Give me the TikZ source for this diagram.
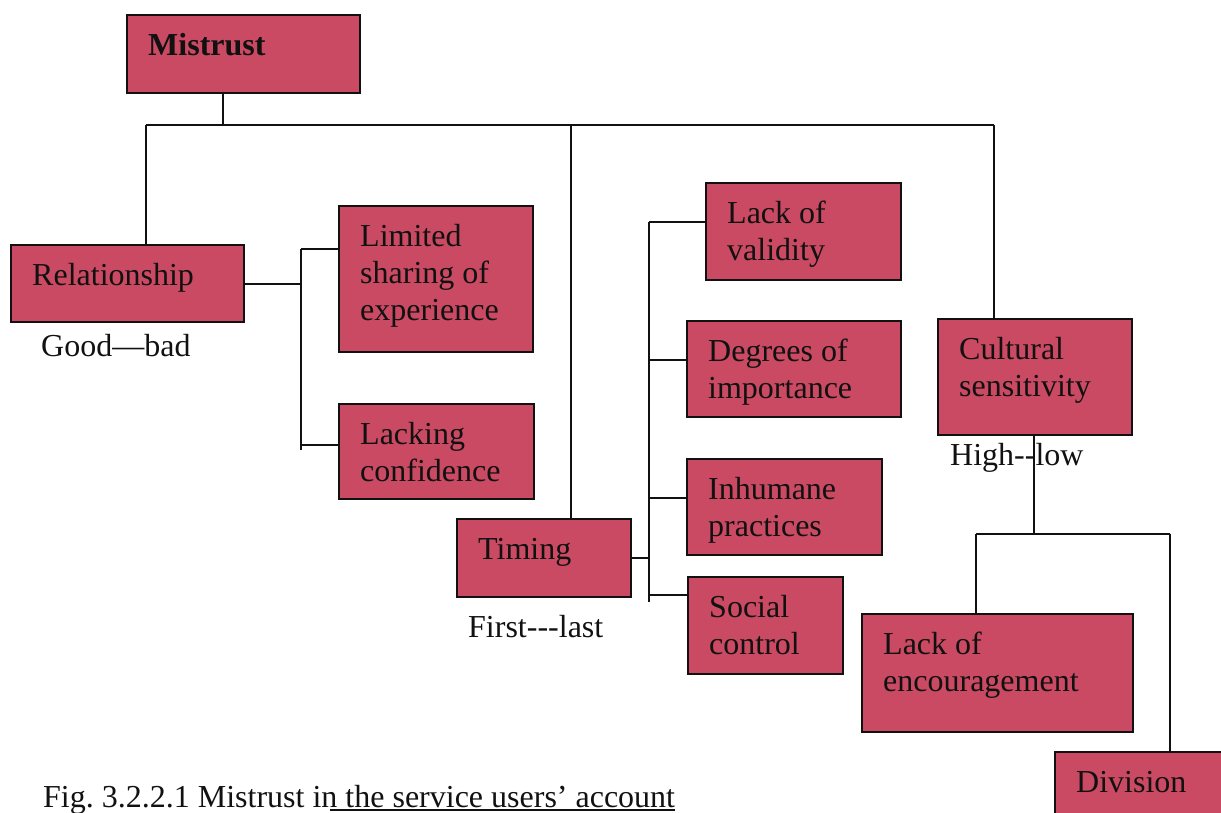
\documentclass[tikz,border=0pt]{standalone}
\usepackage{fontspec}
\setmainfont{Liberation Serif}
\definecolor{boxfill}{RGB}{201,74,98}
\definecolor{ink}{RGB}{17,17,17}

\tikzset{
  box/.style={draw=ink, fill=boxfill, line width=2.4pt, inner sep=0pt, anchor=north west},
  boxtext/.style={inner sep=0pt, anchor=base west, text=ink, font={\fontsize{32}{37}\selectfont}},
  note/.style={inner sep=0pt, anchor=base west, text=ink, font={\fontsize{32}{37}\selectfont}},
  link/.style={draw=ink, line width=2pt},
}

% \mkbox{name}{left}{top}{width}{height}{lines}
\newcommand\mkbox[6]{%
  \node[box, minimum width=#4pt, minimum height=#5pt] (#1) at (#2,#3) {};
  \node[boxtext] (#1-t) at ([shift={(22,41)}]#1.north west)
    {\begin{tabular}[t]{@{}l@{}}#6\end{tabular}};
}

\begin{document}
\begin{tikzpicture}[x=1pt, y=-1pt]
\useasboundingbox (0,0) rectangle (1221,812);
\begin{scope}
\clip (0,0) rectangle (1221,812);

% boxes
\mkbox{mistrust}{126}{14}{233}{78}{\textbf{Mistrust}}
\mkbox{rel}{10}{244}{233}{77}{Relationship}
\mkbox{limited}{338}{205}{194}{146}{Limited\\sharing of\\experience}
\mkbox{lacking}{338}{403}{195}{95}{Lacking\\confidence}
\mkbox{timing}{456}{518}{174}{78}{Timing}
\mkbox{validity}{705}{182}{195}{97}{Lack of\\validity}
\mkbox{degrees}{686}{320}{214}{96}{Degrees of\\importance}
\mkbox{inhumane}{686}{458}{195}{96}{Inhumane\\practices}
\mkbox{social}{687}{576}{155}{97}{Social\\control}
\mkbox{cult}{937}{318}{194}{116}{Cultural\\sensitivity}
\mkbox{lackenc}{861}{613}{271}{118}{Lack of\\encouragement}
\mkbox{division}{1054}{751}{200}{100}{Division}

% scale labels
\node[note] (goodbad) at (41,356) {Good---bad};
\node[note] (firstlast) at (468,637) {First-{}-{}-last};
\node[note] (highlow) at (950,465) {High-{}-low};

% top-level branching
\coordinate (hub) at (223,125);
\coordinate (barL) at (146,125);
\coordinate (barT) at (571,125);
\coordinate (barR) at (994,125);
\draw[link] (hub |- mistrust.south) -- (hub);
\draw[link] (barL) -- (barR);
\draw[link] (barL) -- (barL |- rel.north);
\draw[link] (barT) -- (barT |- timing.north);
\draw[link] (barR) -- (barR |- cult.north);

% relationship branch
\coordinate (rtop) at (301,249);
\coordinate (rlow) at (301,445);
\coordinate (rend) at (301,450);
\draw[link] (rel.east) -- (rel.east -| rtop);
\draw[link] (rtop) -- (rend);
\draw[link] (rtop) -- (rtop -| limited.west);
\draw[link] (rlow) -- (rlow -| lacking.west);

% timing branch
\coordinate (ta) at (649,222);
\coordinate (tb) at (649,360);
\coordinate (tc) at (649,498);
\coordinate (td) at (649,595);
\coordinate (tend) at (649,602);
\draw[link] (timing.east) -- (timing.east -| ta);
\draw[link] (ta) -- (tend);
\draw[link] (ta) -- (ta -| validity.west);
\draw[link] (tb) -- (tb -| degrees.west);
\draw[link] (tc) -- (tc -| inhumane.west);
\draw[link] (td) -- (td -| social.west);

% cultural sensitivity branch
\coordinate (cdrop) at (1034,534);
\coordinate (cl) at (976,534);
\coordinate (cr) at (1170,534);
\draw[link] (cdrop |- cult.south) -- (cdrop);
\draw[link] (cl) -- (cr);
\draw[link] (cl) -- (cl |- lackenc.north);
\draw[link] (cr) -- (cr |- division.north);

% caption
\node[note] (cap) at (43,807) {Fig.\ 3.2.2.1 Mistrust in the service users’ account};
\coordinate (ul) at (330,810);
\draw[draw=ink, line width=1.3pt] (ul) -- (ul -| cap.east);
\end{scope}
\end{tikzpicture}
\end{document}
